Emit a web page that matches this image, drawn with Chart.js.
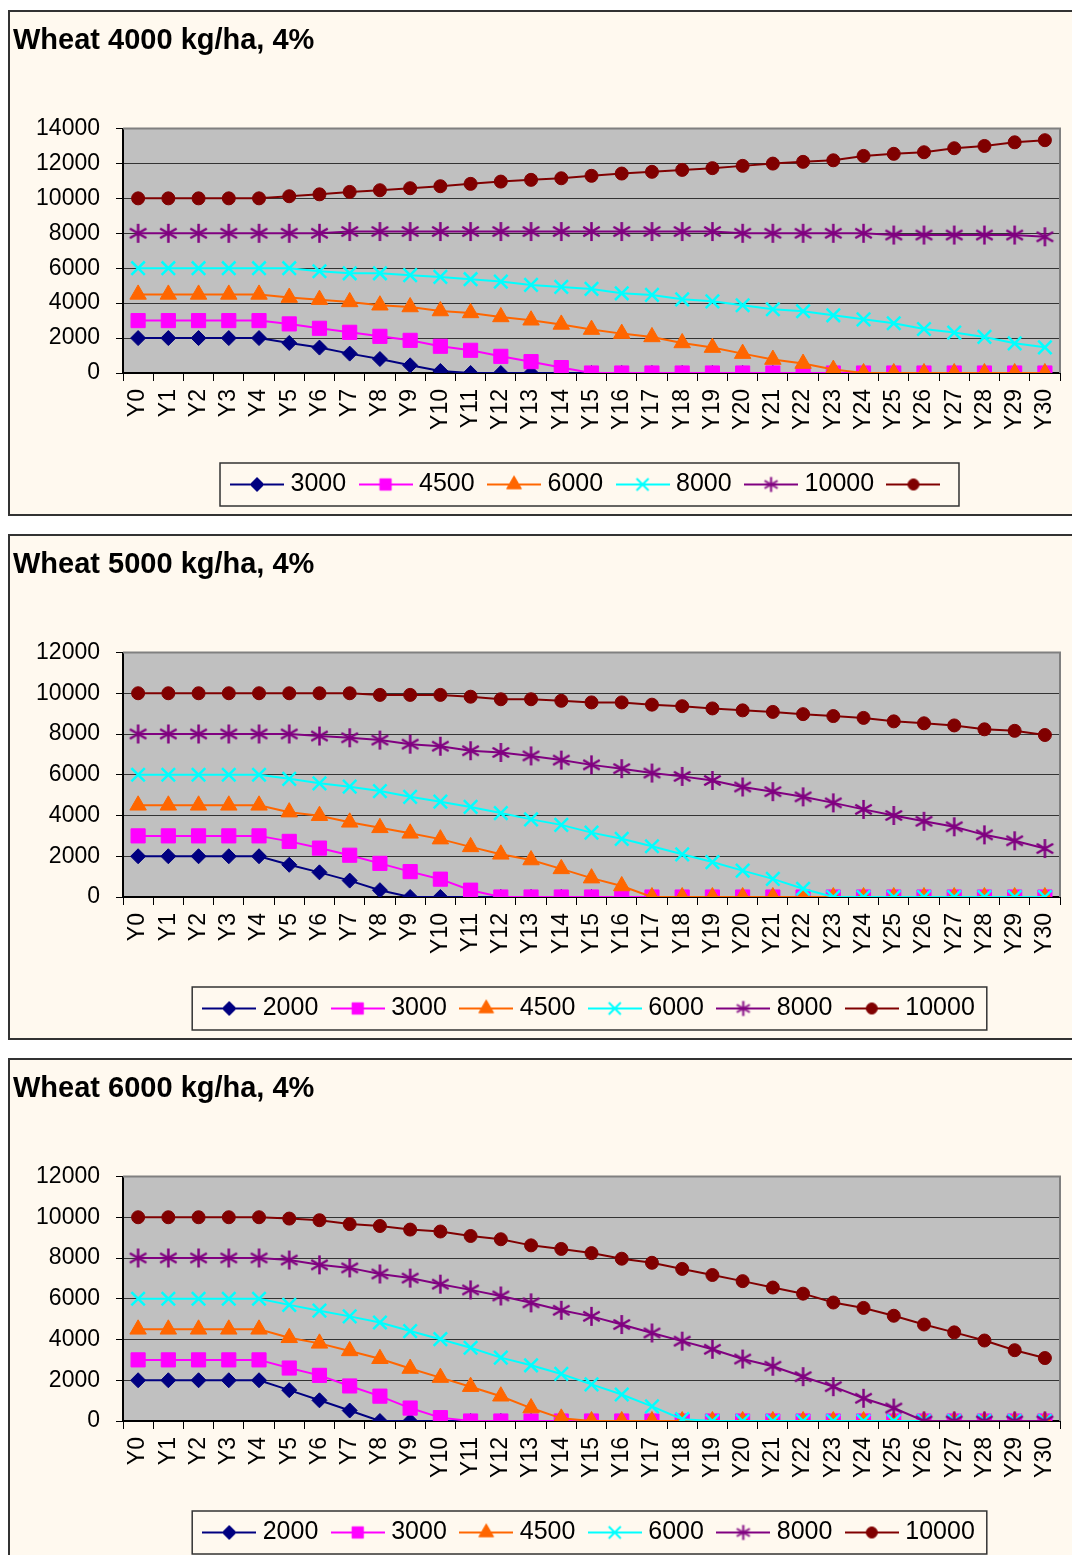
<!DOCTYPE html>
<html>
<head>
<meta charset="utf-8">
<script src="https://cdn.jsdelivr.net/npm/chart.js@4.4.1/dist/chart.umd.min.js"></script>
<style>
  html, body { margin: 0; padding: 0; overflow: hidden; background: #fff; }
  body { width: 1072px; height: 1555px; position: relative; }
  .panel { position: absolute; left: 8px; width: 1100px; height: 506px; box-sizing: border-box;
           border: 2px solid #333; background: #fff9ef; }
  .panel canvas { position: absolute; left: 0; top: 0; }
</style>
</head>
<body>
<div class="panel" style="top:10px"><canvas id="chart1" width="1062" height="502"></canvas></div>
<div class="panel" style="top:534px"><canvas id="chart2" width="1062" height="502"></canvas></div>
<div class="panel" style="top:1058px"><canvas id="chart3" width="1062" height="502"></canvas></div>

<script>
// категории по оси X
const years = ['Y0','Y1','Y2','Y3','Y4','Y5','Y6','Y7','Y8','Y9','Y10','Y11','Y12','Y13','Y14','Y15',
               'Y16','Y17','Y18','Y19','Y20','Y21','Y22','Y23','Y24','Y25','Y26','Y27','Y28','Y29','Y30'];

// подписи легенды (у первого графика они съехали на одну позицию, как в оригинале)
const legend4000 = ['3000', '4500', '6000', '8000', '10000', ''];
const legendOther = ['2000', '3000', '4500', '6000', '8000', '10000'];

// верх оси Y
const yMax4000 = 14000;
const yMaxOther = 12000;
const yStep = 2000;

// Wheat 4000 kg/ha
const w4000_2000 = [2000,2000,2000,2000,2000,1720,1455,1110,800,440,115,0,0,0,0,0,0,0,0,0,0,0,0,0,0,0,0,0,0,0,0];
const w4000_3000 = [3000,3000,3000,3000,3000,2810,2560,2330,2100,1870,1530,1300,955,650,310,0,0,0,0,0,0,0,0,0,0,0,0,0,0,0,0];
const w4000_4500 = [4500,4500,4500,4500,4500,4320,4200,4070,3880,3780,3550,3440,3210,3020,2780,2485,2255,2065,1720,1455,1110,770,540,195,0,0,0,0,0,0,0];
const w4000_6000 = [6000,6000,6000,6000,6000,6000,5825,5710,5710,5600,5500,5370,5235,5045,4930,4815,4565,4470,4220,4105,3880,3650,3535,3305,3075,2850,2520,2315,2065,1700,1470];
const w4000_8000 = [8000,8000,8000,8000,8000,8000,8000,8100,8100,8100,8100,8100,8100,8100,8100,8100,8100,8100,8100,8100,8000,8000,8000,8000,8000,7900,7900,7900,7900,7900,7800];
const w4000_10000 = [10000,10000,10000,10000,10000,10120,10230,10370,10465,10580,10695,10830,10960,11060,11150,11290,11420,11520,11630,11730,11860,11990,12090,12180,12430,12550,12640,12870,13000,13210,13330];

// Wheat 5000 kg/ha
const w5000_2000 = [2000,2000,2000,2000,2000,1580,1210,805,335,0,0,0,0,0,0,0,0,0,0,0,0,0,0,0,0,0,0,0,0,0,0];
const w5000_3000 = [3000,3000,3000,3000,3000,2730,2400,2050,1650,1245,875,335,0,0,0,0,0,0,0,0,0,0,0,0,0,0,0,0,0,0,0];
const w5000_4500 = [4500,4500,4500,4500,4500,4165,3990,3665,3395,3125,2840,2460,2095,1815,1380,925,540,0,0,0,0,0,0,0,0,0,0,0,0,0,0];
const w5000_6000 = [6000,6000,6000,6000,6000,5800,5580,5415,5200,4915,4680,4420,4120,3810,3540,3160,2855,2490,2095,1715,1295,890,405,0,0,0,0,0,0,0,0];
const w5000_8000 = [8000,8000,8000,8000,8000,8000,7900,7815,7700,7500,7400,7180,7095,6925,6720,6485,6300,6085,5920,5720,5400,5170,4915,4620,4300,4000,3715,3445,3050,2760,2380];
const w5000_10000 = [10000,10000,10000,10000,10000,10000,10000,10000,9920,9920,9920,9830,9705,9705,9630,9550,9550,9440,9365,9255,9160,9085,8975,8880,8790,8620,8525,8420,8230,8155,7950];

// Wheat 6000 kg/ha
const w6000_2000 = [2000,2000,2000,2000,2000,1515,1015,515,0,0,0,0,0,0,0,0,0,0,0,0,0,0,0,0,0,0,0,0,0,0,0];
const w6000_3000 = [3000,3000,3000,3000,3000,2600,2240,1720,1220,635,165,0,0,0,0,0,0,0,0,0,0,0,0,0,0,0,0,0,0,0,0];
const w6000_4500 = [4500,4500,4500,4500,4500,4085,3810,3440,3055,2575,2130,1685,1215,635,130,0,0,0,0,0,0,0,0,0,0,0,0,0,0,0,0];
const w6000_6000 = [6000,6000,6000,6000,6000,5700,5415,5135,4835,4415,4015,3595,3110,2735,2310,1800,1300,715,90,0,0,0,0,0,0,0,0,0,0,0,0];
const w6000_8000 = [8000,8000,8000,8000,8000,7900,7665,7515,7215,7015,6715,6435,6135,5800,5435,5135,4735,4320,3920,3520,3040,2690,2175,1685,1115,635,0,0,0,0,0];
const w6000_10000 = [10000,10000,10000,10000,10000,9935,9855,9665,9570,9395,9300,9080,8920,8620,8445,8240,7965,7765,7465,7165,6865,6550,6250,5815,5550,5165,4735,4350,3950,3475,3090];

// цвета и маркеры серий (как в Excel)
const colors = ['#000080', '#ff00ff', '#ff6600', '#00ffff', '#800080', '#800000'];
const fontFamily = "'Liberation Sans', Arial, sans-serif";

// звёздочка-маркер: вертикаль + косой крест
function makeAsterisk(size, color, lw) {
    const c = document.createElement('canvas');
    c.width = size;
    c.height = size;
    const g = c.getContext('2d');
    const m = size / 2, r = size / 2 - 1;
    g.strokeStyle = color;
    g.lineWidth = lw;
    g.beginPath();
    g.moveTo(m, m - r); g.lineTo(m, m + r);
    g.moveTo(m - r * 0.87, m - r * 0.5); g.lineTo(m + r * 0.87, m + r * 0.5);
    g.moveTo(m - r * 0.87, m + r * 0.5); g.lineTo(m + r * 0.87, m - r * 0.5);
    g.stroke();
    return c;
}

const markerStyles = ['rectRot', 'rect', 'triangle', 'crossRot', makeAsterisk(21, colors[4], 2.5), 'circle'];
const markerSizes = [7.5, 10, 9.5, 9.5, 10, 6.5];
const legendMarkers = ['rectRot', 'rect', 'triangle', 'crossRot', makeAsterisk(17, colors[4], 2), 'circle'];
const legendSizes = [7, 8, 8.5, 8.5, 8, 5.5];

// образец линии с маркером для легенды
function makeSample(i) {
    const c = document.createElement('canvas');
    c.width = 54;
    c.height = 22;
    const g = c.getContext('2d');
    g.strokeStyle = colors[i];
    g.fillStyle = colors[i];
    g.lineWidth = 2;
    g.beginPath();
    g.moveTo(0, 11);
    g.lineTo(54, 11);
    g.stroke();
    const st = legendMarkers[i];
    if (typeof st !== 'string') {
        g.drawImage(st, 27 - st.width / 2, 11 - st.height / 2);
    } else {
        g.lineWidth = st === 'crossRot' ? 2 : 1;
        Chart.helpers.drawPoint(g, { pointStyle: st, radius: legendSizes[i], borderWidth: g.lineWidth, rotation: 0 }, 27, 11);
    }
    return c;
}
const samples = colors.map((_, i) => makeSample(i));

// серый фон области построения, рамка и рамка легенды
const plotFrame = {
    id: 'plotFrame',
    beforeDraw(chart) {
        const a = chart.chartArea, ctx = chart.ctx;
        ctx.save();
        ctx.fillStyle = '#c0c0c0';
        ctx.fillRect(a.left, a.top, a.right - a.left, a.bottom - a.top);
        ctx.restore();
    },
    beforeDatasetsDraw(chart) {
        const a = chart.chartArea, ctx = chart.ctx;
        ctx.save();
        ctx.strokeStyle = '#808080';
        ctx.lineWidth = 2;
        ctx.beginPath();
        ctx.moveTo(a.left, a.top);
        ctx.lineTo(a.right, a.top);
        ctx.lineTo(a.right, a.bottom);
        ctx.stroke();
        ctx.restore();
    },
    afterDraw(chart) {
        const hb = chart.legend.legendHitBoxes;
        if (!hb || !hb.length) return;
        const first = hb[0], last = hb[hb.length - 1];
        const cy = first.top + first.height / 2;
        const x0 = first.left - 16, x1 = last.left + last.width + 12;
        const ctx = chart.ctx;
        ctx.save();
        ctx.strokeStyle = '#333';
        ctx.lineWidth = 1.5;
        ctx.strokeRect(x0, cy - 21.5, x1 - x0, 43);
        ctx.restore();
    }
};

function makeChart(id, title, yMax, legendLabels, series) {
    const ctx = document.getElementById(id).getContext('2d');
    return new Chart(ctx, {
        type: 'line',
        data: {
            labels: years,
            datasets: series.map((values, i) => ({
                label: legendLabels[i],
                data: values,
                borderColor: colors[i],
                backgroundColor: colors[i],
                borderWidth: 2,
                tension: 0,
                pointStyle: markerStyles[i],
                pointRadius: markerSizes[i],
                pointBackgroundColor: colors[i],
                pointBorderColor: colors[i],
                pointBorderWidth: i === 3 ? 2.5 : 1,
                order: 6 - i
            }))
        },
        options: {
            responsive: false,
            animation: false,
            devicePixelRatio: 1,
            layout: { padding: { left: 3, right: 5, top: 0, bottom: 7 } },
            font: { family: fontFamily },
            plugins: {
                tooltip: { enabled: false },
                title: {
                    display: true,
                    text: title,
                    align: 'start',
                    color: '#000',
                    font: { family: fontFamily, size: 29, weight: 'bold' },
                    padding: { top: 11.4, bottom: 70.3 }
                },
                legend: {
                    position: 'bottom',
                    fullSize: false,
                    labels: {
                        usePointStyle: true,
                        pointStyleWidth: 42,
                        padding: 18.4,
                        color: '#000',
                        font: { family: fontFamily, size: 25 },
                        generateLabels: chart => chart.data.datasets.map((ds, i) => ({
                            text: legendLabels[i],
                            pointStyle: samples[i],
                            fillStyle: colors[i],
                            strokeStyle: colors[i],
                            lineWidth: 0,
                            hidden: false,
                            datasetIndex: i
                        }))
                    }
                }
            },
            scales: {
                x: {
                    offset: true,
                    grid: { offset: true, drawOnChartArea: false, color: '#000', tickLength: 8 },
                    border: { color: '#000', width: 2 },
                    ticks: {
                        autoSkip: false, maxRotation: 90, minRotation: 90, crossAlign: 'center',
                        padding: 8, color: '#000', font: { family: fontFamily, size: 23 }
                    },
                    // фиксированная высота оси, без запаса по краям под подписи
                    afterFit: s => { s.height = 80.6; s.paddingLeft = 0; s.paddingRight = 0; }
                },
                y: {
                    min: 0,
                    max: yMax,
                    grid: { color: '#333', tickColor: '#000', tickLength: 7 },
                    border: { color: '#000', width: 2 },
                    ticks: {
                        stepSize: yStep, padding: 16, color: '#000',
                        font: { family: fontFamily, size: 23 },
                        callback: v => String(v)
                    },
                    afterFit: s => { s.width = 110; }
                }
            }
        },
        plugins: [plotFrame]
    });
}

makeChart('chart1', 'Wheat 4000 kg/ha, 4%', yMax4000, legend4000,
    [w4000_2000, w4000_3000, w4000_4500, w4000_6000, w4000_8000, w4000_10000]);
makeChart('chart2', 'Wheat 5000 kg/ha, 4%', yMaxOther, legendOther,
    [w5000_2000, w5000_3000, w5000_4500, w5000_6000, w5000_8000, w5000_10000]);
makeChart('chart3', 'Wheat 6000 kg/ha, 4%', yMaxOther, legendOther,
    [w6000_2000, w6000_3000, w6000_4500, w6000_6000, w6000_8000, w6000_10000]);
</script>
</body>
</html>
